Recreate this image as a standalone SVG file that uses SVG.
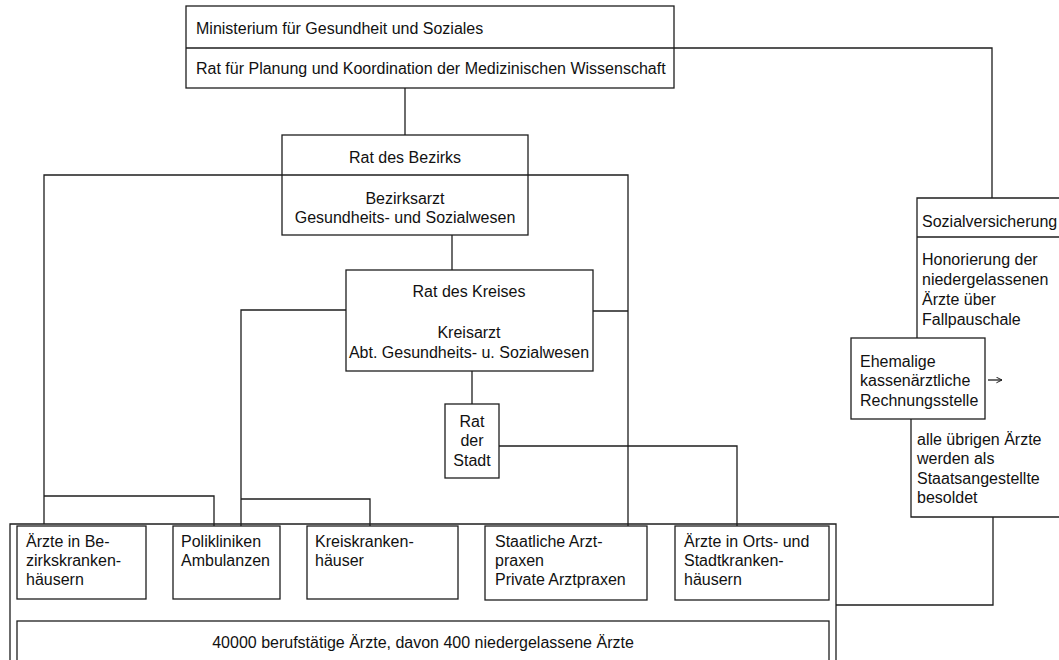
<svg xmlns="http://www.w3.org/2000/svg" width="1059" height="660" viewBox="0 0 1059 660">
<defs>
<style>
.b{fill:#fff;stroke:#1e1e1e;stroke-width:1.3}
.l{fill:none;stroke:#1e1e1e;stroke-width:1.3}
text{font-family:"Liberation Sans",Arial,sans-serif;font-size:16px;fill:#111}
.c{text-anchor:middle}
</style>
<marker id="ah" viewBox="0 0 10 10" refX="9" refY="5" markerWidth="7" markerHeight="7" orient="auto" markerUnits="userSpaceOnUse">
<path d="M1 1 L9 5 L1 9" fill="none" stroke="#1e1e1e" stroke-width="1.4"/>
</marker>
</defs>
<rect width="1059" height="660" fill="#fff"/>

<g id="connectors" class="l">
<path class="l" d="M674 48 H992 V198"/>
<path class="l" d="M405 88 V135"/>
<path class="l" d="M44 524 V175 H282"/>
<path class="l" d="M528 175 H628 V527"/>
<path class="l" d="M44 496 H214 V527"/>
<path class="l" d="M452 235 V270"/>
<path class="l" d="M346 310 H241 V527"/>
<path class="l" d="M241 499 H370 V527"/>
<path class="l" d="M593 311 H628"/>
<path class="l" d="M472 371 V404"/>
<path class="l" d="M499 446 H737 V527"/>
<path class="l" d="M836 605 H993 V517"/>
<path class="l" d="M988 380 H1002" marker-end="url(#ah)"/>
</g>

<g id="ministerium">
<rect class="b" x="186" y="6" width="488" height="82"/>
<line class="l" x1="186" y1="48" x2="674" y2="48"/>
<text x="196" y="34">Ministerium für Gesundheit und Soziales</text>
<text x="196" y="74">Rat für Planung und Koordination der Medizinischen Wissenschaft</text>
</g>

<g id="bezirk">
<rect class="b" x="282" y="135" width="246" height="100"/>
<line class="l" x1="282" y1="175" x2="528" y2="175"/>
<text class="c" x="405" y="163">Rat des Bezirks</text>
<text class="c" x="405" y="204">Bezirksarzt</text>
<text class="c" x="405" y="223">Gesundheits- und Sozialwesen</text>
</g>

<g id="kreis">
<rect class="b" x="346" y="270" width="247" height="101"/>
<text class="c" x="469" y="297">Rat des Kreises</text>
<text class="c" x="469" y="338">Kreisarzt</text>
<text class="c" x="469" y="358">Abt. Gesundheits- u. Sozialwesen</text>
</g>

<g id="stadt">
<rect class="b" x="445" y="404" width="54" height="74"/>
<text class="c" x="472" y="427">Rat</text>
<text class="c" x="472" y="446">der</text>
<text class="c" x="472" y="466">Stadt</text>
</g>

<g id="sozialversicherung">
<path class="l" d="M1059 198 H917 V338"/>
<line class="l" x1="917" y1="237" x2="1059" y2="237"/>
<text x="922" y="227">Sozialversicherung</text>
<text x="922" y="265">Honorierung der</text>
<text x="922" y="285">niedergelassenen</text>
<text x="922" y="305">Ärzte über</text>
<text x="922" y="325">Fallpauschale</text>
</g>

<g id="rechnungsstelle">
<rect class="b" x="851" y="338" width="134" height="81"/>
<text x="860" y="367">Ehemalige</text>
<text x="860" y="386">kassenärztliche</text>
<text x="860" y="406">Rechnungsstelle</text>
</g>

<g id="staatsangestellte">
<path class="l" d="M911 419 V517 H1059"/>
<text x="917" y="445">alle übrigen Ärzte</text>
<text x="917" y="464">werden als</text>
<text x="917" y="484">Staatsangestellte</text>
<text x="917" y="503">besoldet</text>
</g>

<g id="aerzte-gesamt">
<path class="l" d="M10 662 V524 H836 V662"/>
</g>

<g id="bezirkskrankenhaeuser">
<rect class="b" x="17" y="526" width="129" height="73"/>
<text x="26" y="547">Ärzte in Be-</text>
<text x="26" y="566">zirkskranken-</text>
<text x="26" y="585">häusern</text>
</g>

<g id="polikliniken">
<rect class="b" x="173" y="526" width="107" height="73"/>
<text x="181" y="547">Polikliniken</text>
<text x="181" y="566">Ambulanzen</text>
</g>

<g id="kreiskrankenhaeuser">
<rect class="b" x="307" y="526" width="151" height="73"/>
<text x="315" y="547">Kreiskranken-</text>
<text x="315" y="566">häuser</text>
</g>

<g id="arztpraxen">
<rect class="b" x="485" y="526" width="162" height="74"/>
<text x="495" y="547">Staatliche Arzt-</text>
<text x="495" y="566">praxen</text>
<text x="495" y="585">Private Arztpraxen</text>
</g>

<g id="stadtkrankenhaeuser">
<rect class="b" x="675" y="526" width="154" height="74"/>
<text x="684" y="547">Ärzte in Orts- und</text>
<text x="684" y="566">Stadtkranken-</text>
<text x="684" y="585">häusern</text>
</g>

<g id="summe">
<rect class="b" x="17" y="621" width="812" height="50"/>
<text class="c" x="423" y="648">40000 berufstätige Ärzte, davon 400 niedergelassene Ärzte</text>
</g>
</svg>
